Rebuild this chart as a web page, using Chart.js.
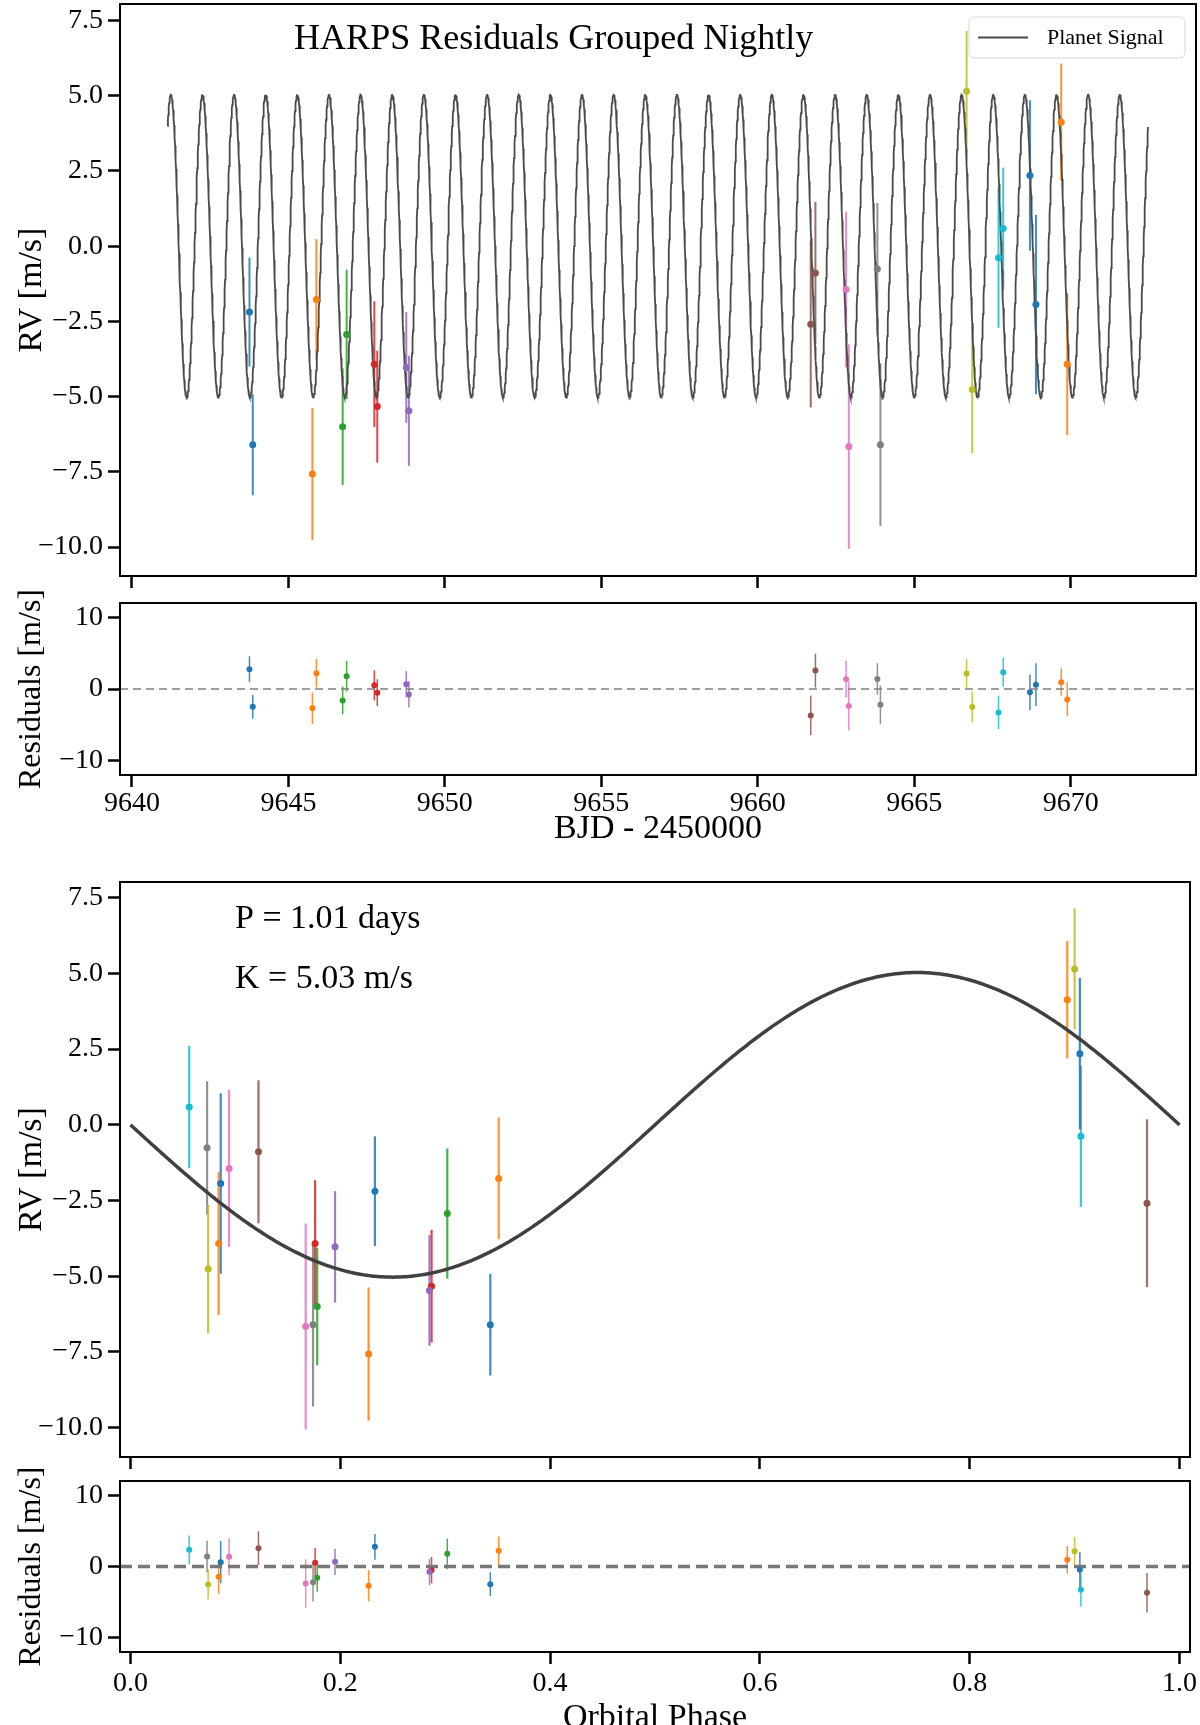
<!DOCTYPE html>
<html>
<head>
<meta charset="utf-8">
<title>HARPS Residuals Grouped Nightly</title>
<script src="https://cdn.jsdelivr.net/npm/chart.js@4.4.1/dist/chart.umd.min.js"></script>
<style>
  html, body { margin: 0; padding: 0; background: #fff; overflow: hidden; }
  body { width: 1200px; height: 1725px; position: relative; }
  canvas { position: absolute; left: 0; }
</style>
</head>
<body>
<canvas id="rvTime" style="top:0px"></canvas>
<canvas id="resTime" style="top:560px"></canvas>
<canvas id="rvPhase" style="top:860px"></canvas>
<canvas id="resPhase" style="top:1440px"></canvas>
<script>
// --- data (two exposures per night) ---
const nightIdx = [0, 0, 1, 1, 2, 2, 3, 3, 4, 4, 5, 5, 6, 6, 7, 7, 8, 8, 9, 9, 10, 10, 11, 11];
const bjd = [9643.757, 9643.862, 9645.767, 9645.894, 9646.735, 9646.862, 9647.746, 9647.840,
             9648.767, 9648.851, 9661.690, 9661.840, 9662.820, 9662.907, 9663.820, 9663.917,
             9666.670, 9666.850, 9667.690, 9667.840, 9668.694, 9668.886, 9669.694, 9669.886];
const orbitalPhase = [0.233, 0.343, 0.227, 0.351, 0.178, 0.302, 0.176, 0.287,
                      0.195, 0.285, 0.969, 0.122, 0.094, 0.167, 0.073, 0.174,
                      0.900, 0.074, 0.906, 0.056, 0.905, 0.086, 0.893, 0.084];
const rv = [-2.19, -6.60, -7.57, -1.77, -6.00, -2.93, -3.92, -5.33,
            -4.03, -5.47, -2.59, -0.89, -1.44, -6.66, -0.76, -6.60,
            5.15, -4.76, -0.38, 0.59, 2.35, -1.94, 4.13, -3.92];
const rvErr = [1.81, 1.68, 2.20, 2.01, 1.94, 2.15, 2.09, 1.86,
               1.84, 1.83, 2.77, 2.36, 2.59, 3.40, 2.20, 2.70,
               2.00, 2.12, 2.33, 2.02, 2.50, 2.98, 1.94, 2.36];
const resid = [2.76, -2.48, -2.70, 2.20, -1.59, 1.78, 0.51, -0.51,
               0.65, -0.75, -3.69, 2.57, 1.36, -2.38, 1.40, -2.20,
               2.15, -2.52, -3.27, 2.34, -0.47, 0.61, 0.93, -1.45];

// planet model
const MODEL_K = 5.03;
const MODEL_P = 1.0107;
const MODEL_T0 = 9640.487;
const MODEL_T_START = 9641.14;
const MODEL_T_END = 9672.47;

// axes
const bjdTicks = [9640, 9645, 9650, 9655, 9660, 9665, 9670];
const phaseTicks = [0, 0.2, 0.4, 0.6, 0.8, 1.0];
const rvTicks = [7.5, 5.0, 2.5, 0.0, -2.5, -5.0, -7.5, -10.0];
const resTicks = [10, 0, -10];
const BJD_MIN = 9639.62, BJD_MAX = 9674.0;
const PHASE_MIN = -0.01, PHASE_MAX = 1.01;

const TAB10 = ['#1f77b4', '#ff7f0e', '#2ca02c', '#d62728', '#9467bd',
               '#8c564b', '#e377c2', '#7f7f7f', '#bcbd22', '#17becf'];

const SERIF = "'Liberation Serif', 'Times New Roman', serif";
const tickFont = { family: SERIF, size: 28 };
const rvLabelFont = { family: SERIF, size: 34, lineHeight: 1.2 };
const resLabelFont = { family: SERIF, size: 32, lineHeight: 1.2 };

function rgba(hex, a) {
  const n = parseInt(hex.slice(1), 16);
  return `rgba(${(n >> 16) & 255},${(n >> 8) & 255},${n & 255},${a})`;
}
const pointColors = nightIdx.map(n => TAB10[n % 10]);
const barColors = pointColors.map(c => rgba(c, 0.85));

const minus = s => s.replace('-', '\u2212');
const fmt1 = v => minus(Number(v).toFixed(1));
const fmt0 = v => minus(String(Math.round(v)));
const blank = () => '';

// model curves
const modelTime = [];
for (let i = 0; i <= 3000; i++) {
  const t = MODEL_T_START + (MODEL_T_END - MODEL_T_START) * i / 3000;
  modelTime.push({ x: t, y: -MODEL_K * Math.sin(2 * Math.PI * (t - MODEL_T0) / MODEL_P) });
}
const modelPhase = [];
for (let i = 0; i <= 400; i++) {
  const p = i / 400;
  modelPhase.push({ x: p, y: -MODEL_K * Math.sin(2 * Math.PI * p) });
}

// --- plugins ---
const errorBars = {
  id: 'errorBars',
  beforeDatasetsDraw(chart) {
    const { ctx, scales: { y } } = chart;
    chart.data.datasets.forEach((ds, i) => {
      if (!ds.errors) return;
      const meta = chart.getDatasetMeta(i);
      ctx.save();
      ctx.lineWidth = ds.barWidth;
      meta.data.forEach((pt, j) => {
        const v = ds.data[j].y, e = ds.errors[j];
        ctx.strokeStyle = ds.barColors[j];
        ctx.beginPath();
        ctx.moveTo(pt.x, y.getPixelForValue(v - e));
        ctx.lineTo(pt.x, y.getPixelForValue(v + e));
        ctx.stroke();
      });
      ctx.restore();
    });
  }
};

const frame = {
  id: 'frame',
  afterDatasetsDraw(chart) {
    const { ctx, chartArea: a } = chart;
    ctx.save();
    ctx.strokeStyle = '#000';
    ctx.lineWidth = 2;
    ctx.strokeRect(a.left, a.top, a.right - a.left, a.bottom - a.top);
    ctx.restore();
  }
};

function panelText(items) {
  return {
    id: 'panelText',
    afterDraw(chart) {
      const { ctx, chartArea: a } = chart;
      ctx.save();
      ctx.fillStyle = '#000';
      ctx.textBaseline = 'middle';
      items.forEach(it => {
        ctx.font = it.font;
        ctx.textAlign = it.align;
        ctx.fillText(it.text, a.left + it.fx * (a.right - a.left), a.top + it.fy * (a.bottom - a.top));
      });
      ctx.restore();
    }
  };
}

const boxLegend = {
  id: 'boxLegend',
  afterDraw(chart) {
    const { ctx, chartArea: a } = chart;
    const ds = chart.data.datasets.find(d => d.inLegend);
    const x = a.right - 227, y = a.top + 13, w = 216, h = 41, r = 5;
    ctx.save();
    ctx.beginPath();
    ctx.roundRect(x, y, w, h, r);
    ctx.fillStyle = 'rgba(255,255,255,0.8)';
    ctx.fill();
    ctx.strokeStyle = '#d8d8d8';
    ctx.lineWidth = 1;
    ctx.stroke();
    ctx.strokeStyle = ds.borderColor;
    ctx.lineWidth = ds.borderWidth;
    ctx.beginPath();
    ctx.moveTo(x + 9, y + h / 2);
    ctx.lineTo(x + 59, y + h / 2);
    ctx.stroke();
    ctx.fillStyle = '#000';
    ctx.font = `22px ${SERIF}`;
    ctx.textAlign = 'left';
    ctx.textBaseline = 'middle';
    ctx.fillText(ds.label, x + 78, y + h / 2 + 1);
    ctx.restore();
  }
};

// --- axis builders ---
const tickGrid = { display: true, drawOnChartArea: false, drawTicks: true, tickLength: 12, tickWidth: 2.5, tickColor: '#000' };

function yAxis(min, max, ticks, fmt, title, font) {
  return {
    type: 'linear', position: 'left', min, max,
    afterBuildTicks: s => { s.ticks = ticks.map(v => ({ value: v })); },
    afterFit: s => { s.width = 120; s.paddingTop = 0; s.paddingBottom = 0; },
    grid: tickGrid,
    border: { display: false },
    ticks: { color: '#000', font: tickFont, padding: 5, autoSkip: false, callback: v => fmt(v) },
    title: { display: true, text: title, color: '#000', font, padding: { top: 12, bottom: 0 } }
  };
}

function xAxis(min, max, ticks, fmt, height, tickPad, title, titlePad) {
  return {
    type: 'linear', position: 'bottom', min, max,
    afterBuildTicks: s => { s.ticks = ticks.map(v => ({ value: v })); },
    afterFit: s => { s.height = height; s.paddingLeft = 0; s.paddingRight = 0; },
    grid: tickGrid,
    border: { display: false },
    ticks: { color: '#000', font: tickFont, padding: tickPad, maxRotation: 0, autoSkip: false, callback: v => fmt(v) },
    title: title
      ? { display: true, text: title, color: '#000', font: rvLabelFont, padding: { top: 0, bottom: titlePad } }
      : { display: false }
  };
}

function pointSet(xs, ys, radius, barWidth) {
  return {
    type: 'scatter',
    data: xs.map((x, i) => ({ x, y: ys[i] })),
    errors: rvErr,
    barColors,
    barWidth,
    pointRadius: radius,
    pointBackgroundColor: pointColors,
    pointBorderWidth: 0,
    order: 0
  };
}

function lineSet(data, color, width, dash, label) {
  return {
    type: 'scatter', showLine: true, label: label || '', inLegend: !!label,
    data, borderColor: color, borderWidth: width, borderDash: dash || [],
    pointRadius: 0, tension: 0, order: 1
  };
}

function baseOptions(padding, scales) {
  return {
    responsive: false, animation: false, events: [],
    layout: { padding },
    plugins: { legend: { display: false }, tooltip: { enabled: false }, title: { display: false } },
    scales
  };
}

function makeCanvas(id, h) {
  const c = document.getElementById(id);
  c.width = 1200; c.height = h;
  c.style.width = '1200px'; c.style.height = h + 'px';
  return c;
}

// 1. RV vs time
new Chart(makeCanvas('rvTime', 600), {
  type: 'scatter',
  data: { datasets: [
    lineSet(modelTime, '#4a4a4a', 1.8, null, 'Planet Signal'),
    pointSet(bjd, rv, 3.5, 2)
  ] },
  options: baseOptions({ top: 1, right: 3, left: 0, bottom: 0 }, {
    x: xAxis(BJD_MIN, BJD_MAX, bjdTicks, blank, 24, 1),
    y: yAxis(-10.96, 8.05, rvTicks, fmt1, 'RV [m/s]', rvLabelFont)
  }),
  plugins: [errorBars, frame, boxLegend,
    panelText([{ text: 'HARPS Residuals Grouped Nightly', fx: 0.403, fy: 0.063, align: 'center', font: `36px ${SERIF}` }])]
});

// 2. residuals vs time
new Chart(makeCanvas('resTime', 300), {
  type: 'scatter',
  data: { datasets: [
    lineSet([{ x: BJD_MIN, y: 0 }, { x: BJD_MAX, y: 0 }], '#808080', 1.6, [8, 5]),
    pointSet(bjd, resid, 3, 1.5)
  ] },
  options: baseOptions({ top: 43, right: 3, left: 0, bottom: 0 }, {
    x: xAxis(BJD_MIN, BJD_MAX, bjdTicks, fmt0, 85, 0, 'BJD - 2450000', 11),
    y: yAxis(-12, 12, resTicks, fmt0, 'Residuals [m/s]', resLabelFont)
  }),
  plugins: [errorBars, frame]
});

// 3. RV vs orbital phase
new Chart(makeCanvas('rvPhase', 620), {
  type: 'scatter',
  data: { datasets: [
    lineSet(modelPhase, '#404040', 3.5),
    pointSet(orbitalPhase, rv, 3.5, 2.2)
  ] },
  options: baseOptions({ top: 22, right: 10, left: 0, bottom: 0 }, {
    x: xAxis(PHASE_MIN, PHASE_MAX, phaseTicks, blank, 23, 1),
    y: yAxis(-10.97, 8.02, rvTicks, fmt1, 'RV [m/s]', rvLabelFont)
  }),
  plugins: [errorBars, frame,
    panelText([
      { text: 'P = 1.01 days', fx: 0.1075, fy: 0.064, align: 'left', font: `34px ${SERIF}` },
      { text: 'K = 5.03 m/s', fx: 0.1075, fy: 0.168, align: 'left', font: `34px ${SERIF}` }
    ])]
});

// 4. residuals vs orbital phase
new Chart(makeCanvas('resPhase', 330), {
  type: 'scatter',
  data: { datasets: [
    lineSet([{ x: PHASE_MIN, y: 0 }, { x: PHASE_MAX, y: 0 }], '#777777', 3.5, [12, 6]),
    pointSet(orbitalPhase, resid, 3, 1.5)
  ] },
  options: baseOptions({ top: 41, right: 10, left: 0, bottom: 0 }, {
    x: xAxis(PHASE_MIN, PHASE_MAX, phaseTicks, fmt1, 118, 3, 'Orbital Phase', 32),
    y: yAxis(-12, 12, resTicks, fmt0, 'Residuals [m/s]', resLabelFont)
  }),
  plugins: [errorBars, frame]
});
</script>
</body>
</html>
